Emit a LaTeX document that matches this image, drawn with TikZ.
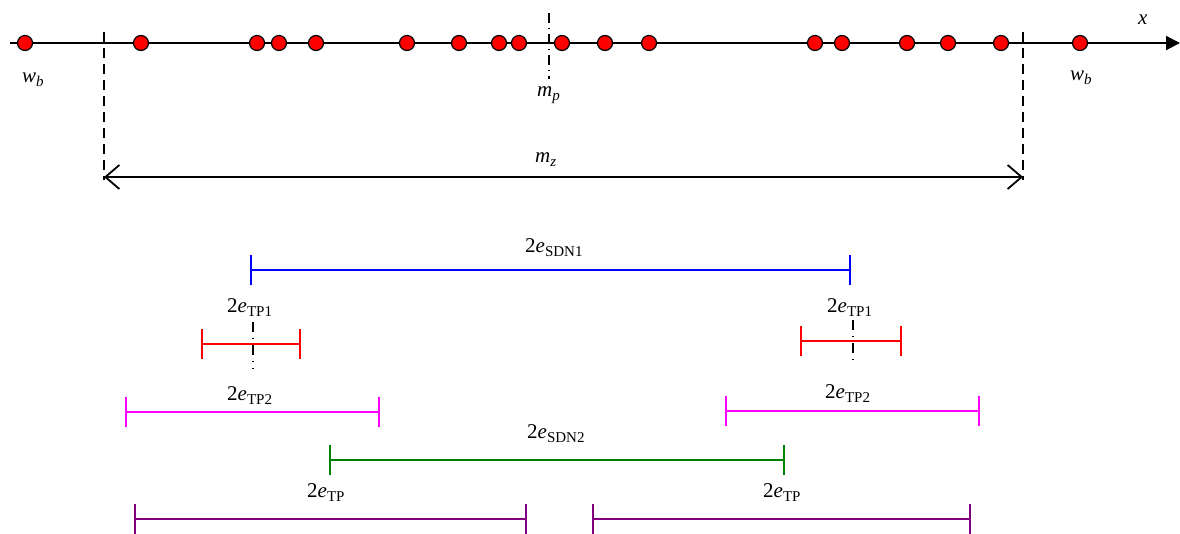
\documentclass[tikz,border=0pt]{standalone}
\usepackage{fontspec}
\setmainfont{Liberation Serif}
\usetikzlibrary{arrows.meta}
\definecolor{mgreen}{RGB}{0,128,0}
\definecolor{mpurple}{RGB}{128,0,128}
\definecolor{mmagenta}{RGB}{255,0,255}
\definecolor{mred}{RGB}{255,0,0}
\definecolor{mblue}{RGB}{0,0,255}
\newcommand{\lowsub}[1]{\raisebox{-4.5pt}{\fontsize{15}{15}\selectfont #1}}
\newcommand{\lab}[1]{2\textit{e}\lowsub{#1}}
\tikzset{
  dot/.style={circle,draw=black,fill=mred,line width=1.2pt,minimum size=15pt,inner sep=0pt},
  lbl/.style={font=\fontsize{21}{22}\selectfont,inner sep=0pt,anchor=base west},
  vdash/.style={draw=black,line width=1.2pt,dash pattern=on 10pt off 6pt},
  dashdot/.style={draw=black,line width=1.2pt,dash pattern=on 10pt off 6pt on 1pt off 6pt},
  interval/.style={line width=1.6pt,{Bar[width=30pt,line width=1.6pt]}-{Bar[width=30pt,line width=1.6pt]}},
}
\begin{document}
\begin{tikzpicture}[x=1pt,y=-1pt]
\useasboundingbox (0,0) rectangle (1180,533);
% axis
\coordinate (ax0) at (10,43);
\coordinate (ax1) at (1180,43);
\draw[line width=2pt,-{Triangle[length=14pt,width=14pt]}] (ax0) -- (ax1);
\node[lbl] (xl) at (1138,24) {\textit{x}};
% dashed verticals
\coordinate (dl0) at (104,32); \coordinate (dl1) at (104,180);
\coordinate (dr0) at (1023,32); \coordinate (dr1) at (1023,180);
\draw[vdash] (dl0) -- (dl1);
\draw[vdash] (dr0) -- (dr1);
\coordinate (mp0) at (549,13); \coordinate (mp1) at (549,79);
\draw[draw=black,line width=1.2pt,dash pattern=on 10pt off 5pt on 1pt off 5pt] (mp0) -- (mp1);
% dots
\foreach \i/\x in {1/25,2/141,3/257,4/279,5/316,6/407,7/459,8/499,9/519,10/562,11/605,12/649,13/815,14/842,15/907,16/948,17/1001,18/1080}{
  \node[dot] (d\i) at (\x,43) {};
}
\node[lbl] (wb1) at (22,82) {\textit{w}\lowsub{\textit{b}}};
\node[lbl] (wb2) at (1070,80) {\textit{w}\lowsub{\textit{b}}};
\node[lbl] (mp) at (537,96) {\textit{m}\lowsub{\textit{p}}};
% m_z
\coordinate (mz0) at (104,177); \coordinate (mz1) at (1023,177);
\draw[line width=1.8pt,{Straight Barb[length=14pt,width=24pt,line width=1.8pt]}-{Straight Barb[length=14pt,width=24pt,line width=1.8pt]}] (mz0) -- (mz1);
\node[lbl] (mz) at (535,162) {\textit{m}\lowsub{\textit{z}}};
% SDN1
\coordinate (s10) at (250,270); \coordinate (s11) at (851,270);
\draw[interval,mblue] (s10) -- (s11);
\node[lbl] (ls1) at (525,252) {\lab{SDN1}};
% TP1
\node[lbl] (lt1a) at (227,312) {\lab{TP1}};
\node[lbl] (lt1b) at (827,312) {\lab{TP1}};
\coordinate (r10) at (201,344); \coordinate (r11) at (301,344);
\coordinate (r20) at (800,341); \coordinate (r21) at (902,341);
\coordinate (c1a) at (253,322); \coordinate (c1b) at (253,369);
\coordinate (c2a) at (853,320); \coordinate (c2b) at (853,366);
\draw[dashdot] (c1a) -- (c1b);
\draw[dashdot] (c2a) -- (c2b);
\draw[interval,mred] (r10) -- (r11);
\draw[interval,mred] (r20) -- (r21);
% TP2
\node[lbl] (lt2a) at (227,400) {\lab{TP2}};
\node[lbl] (lt2b) at (825,398) {\lab{TP2}};
\coordinate (m10) at (125,412); \coordinate (m11) at (380,412);
\coordinate (m20) at (725,411); \coordinate (m21) at (980,411);
\draw[interval,mmagenta] (m10) -- (m11);
\draw[interval,mmagenta] (m20) -- (m21);
% SDN2
\node[lbl] (ls2) at (527,438) {\lab{SDN2}};
\coordinate (g0) at (329,460); \coordinate (g1) at (785,460);
\draw[interval,mgreen] (g0) -- (g1);
% TP
\node[lbl] (ltpa) at (307,497) {\lab{TP}};
\node[lbl] (ltpb) at (763,497) {\lab{TP}};
\coordinate (p10) at (134,519); \coordinate (p11) at (527,519);
\coordinate (p20) at (592,519); \coordinate (p21) at (971,519);
\draw[interval,mpurple] (p10) -- (p11);
\draw[interval,mpurple] (p20) -- (p21);
\end{tikzpicture}
\end{document}
